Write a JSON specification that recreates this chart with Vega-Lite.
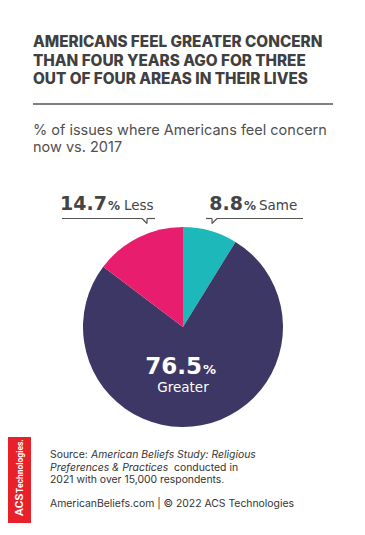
{
  "$schema": "https://vega.github.io/schema/vega-lite/v6.json",
  "width": 365,
  "height": 535,
  "autosize": "none",
  "padding": 0,
  "background": "white",
  "config": {"view": {"stroke": null}, "text": {"font": "Inter"}},
  "data": {"values": [
    {"response": "Same", "share": 8.8, "order": 1},
    {"response": "Greater", "share": 76.5, "order": 2},
    {"response": "Less", "share": 14.7, "order": 3}
  ]},
  "layer": [
    {
      "mark": {"type": "arc", "x": 183, "y": 327, "outerRadius": 100},
      "encoding": {
        "theta": {"field": "share", "type": "quantitative", "stack": true},
        "order": {"field": "order", "type": "quantitative"},
        "color": {"field": "response", "type": "nominal", "legend": null,
          "scale": {"domain": ["Same", "Greater", "Less"], "range": ["#1db9ba", "#3d3765", "#e91d6d"]}}
      }
    },
    {
      "data": {"values": [{}]},
      "mark": {"type": "text", "x": 33, "y": 47, "align": "left", "baseline": "alphabetic", "lineHeight": 18.5,
        "fontSize": 15.3, "fontWeight": 800, "fill": "#404040",
        "text": ["AMERICANS FEEL GREATER CONCERN", "THAN FOUR YEARS AGO FOR THREE", "OUT OF FOUR AREAS IN THEIR LIVES"]},
      "encoding": {}
    },
    {"data": {"values": [{}]}, "mark": {"type": "rule", "stroke": "#555555", "strokeWidth": 1.5},
      "encoding": {"x": {"value": 33}, "x2": {"value": 333}, "y": {"value": 104}, "y2": {"value": 104}}},
    {
      "data": {"values": [{}]},
      "mark": {"type": "text", "x": 33, "y": 135, "align": "left", "baseline": "alphabetic", "lineHeight": 17,
        "fontSize": 14.5, "fontWeight": 400, "fill": "#505050",
        "text": ["% of issues where Americans feel concern", "now vs. 2017"]},
      "encoding": {}
    },
    {
      "transform": [{"filter": "datum.response == 'Less'"}],
      "mark": {"type": "text", "x": 107, "y": 210, "align": "right", "baseline": "alphabetic", "font": "DejaVu Sans", "fontSize": 19, "fontWeight": "bold", "fill": "#444444"},
      "encoding": {"text": {"field": "share", "type": "quantitative", "format": ".1f"}}
    },
    {
      "transform": [{"filter": "datum.response == 'Less'"}],
      "mark": {"type": "text", "x": 108, "y": 210, "align": "left", "baseline": "alphabetic", "font": "DejaVu Sans", "fontSize": 12, "fontWeight": "bold", "fill": "#444444", "text": "%"},
      "encoding": {}
    },
    {
      "transform": [{"filter": "datum.response == 'Less'"}],
      "mark": {"type": "text", "x": 124, "y": 210, "align": "left", "baseline": "alphabetic", "font": "DejaVu Sans", "fontSize": 13.5, "fill": "#444444"},
      "encoding": {"text": {"field": "response", "type": "nominal"}}
    },
    {
      "transform": [{"filter": "datum.response == 'Same'"}],
      "mark": {"type": "text", "x": 243, "y": 210, "align": "right", "baseline": "alphabetic", "font": "DejaVu Sans", "fontSize": 19, "fontWeight": "bold", "fill": "#444444"},
      "encoding": {"text": {"field": "share", "type": "quantitative", "format": ".1f"}}
    },
    {
      "transform": [{"filter": "datum.response == 'Same'"}],
      "mark": {"type": "text", "x": 244, "y": 210, "align": "left", "baseline": "alphabetic", "font": "DejaVu Sans", "fontSize": 12, "fontWeight": "bold", "fill": "#444444", "text": "%"},
      "encoding": {}
    },
    {
      "transform": [{"filter": "datum.response == 'Same'"}],
      "mark": {"type": "text", "x": 259, "y": 210, "align": "left", "baseline": "alphabetic", "font": "DejaVu Sans", "fontSize": 13.5, "fill": "#444444"},
      "encoding": {"text": {"field": "response", "type": "nominal"}}
    },
    {
      "transform": [{"filter": "datum.response == 'Greater'"}],
      "mark": {"type": "text", "x": 202, "y": 374, "align": "right", "baseline": "alphabetic", "font": "DejaVu Sans", "fontSize": 23, "fontWeight": "bold", "fill": "white"},
      "encoding": {"text": {"field": "share", "type": "quantitative", "format": ".1f"}}
    },
    {
      "transform": [{"filter": "datum.response == 'Greater'"}],
      "mark": {"type": "text", "x": 203, "y": 374, "align": "left", "baseline": "alphabetic", "font": "DejaVu Sans", "fontSize": 13, "fontWeight": "bold", "fill": "white", "text": "%"},
      "encoding": {}
    },
    {
      "transform": [{"filter": "datum.response == 'Greater'"}],
      "mark": {"type": "text", "x": 183, "y": 392, "align": "center", "baseline": "alphabetic", "font": "DejaVu Sans", "fontSize": 13.5, "fill": "white"},
      "encoding": {"text": {"field": "response", "type": "nominal"}}
    },
    {"data": {"values": [{}]}, "mark": {"type": "rule", "stroke": "#555555", "strokeWidth": 1.2},
      "encoding": {"x": {"value": 62}, "x2": {"value": 142}, "y": {"value": 218.5}, "y2": {"value": 218.5}}},
    {"data": {"values": [{}]}, "mark": {"type": "rule", "stroke": "#555555", "strokeWidth": 1.2},
      "encoding": {"x": {"value": 142}, "x2": {"value": 147}, "y": {"value": 218.5}, "y2": {"value": 223.5}}},
    {"data": {"values": [{}]}, "mark": {"type": "rule", "stroke": "#555555", "strokeWidth": 1.2},
      "encoding": {"x": {"value": 147}, "x2": {"value": 147}, "y": {"value": 223.5}, "y2": {"value": 218.5}}},
    {"data": {"values": [{}]}, "mark": {"type": "rule", "stroke": "#555555", "strokeWidth": 1.2},
      "encoding": {"x": {"value": 147}, "x2": {"value": 155}, "y": {"value": 218.5}, "y2": {"value": 218.5}}},
    {"data": {"values": [{}]}, "mark": {"type": "rule", "stroke": "#555555", "strokeWidth": 1.2},
      "encoding": {"x": {"value": 206}, "x2": {"value": 212}, "y": {"value": 218.5}, "y2": {"value": 218.5}}},
    {"data": {"values": [{}]}, "mark": {"type": "rule", "stroke": "#555555", "strokeWidth": 1.2},
      "encoding": {"x": {"value": 212}, "x2": {"value": 212}, "y": {"value": 218.5}, "y2": {"value": 223.5}}},
    {"data": {"values": [{}]}, "mark": {"type": "rule", "stroke": "#555555", "strokeWidth": 1.2},
      "encoding": {"x": {"value": 212}, "x2": {"value": 217}, "y": {"value": 223.5}, "y2": {"value": 218.5}}},
    {"data": {"values": [{}]}, "mark": {"type": "rule", "stroke": "#555555", "strokeWidth": 1.2},
      "encoding": {"x": {"value": 217}, "x2": {"value": 303}, "y": {"value": 218.5}, "y2": {"value": 218.5}}},
    {"data": {"values": [{}]}, "mark": {"type": "rect", "fill": "#e8202a"},
      "encoding": {"x": {"value": 8}, "x2": {"value": 31}, "y": {"value": 437}, "y2": {"value": 523}}},
    {
      "data": {"values": [{}]},
      "mark": {"type": "text", "x": 20, "y": 516, "angle": 270, "align": "left", "baseline": "middle", "font": "Roboto",
        "fontSize": 11.5, "fontWeight": "bold", "fill": "white", "text": "ACS"},
      "encoding": {}
    },
    {
      "data": {"values": [{}]},
      "mark": {"type": "text", "x": 20, "y": 493, "angle": 270, "align": "left", "baseline": "middle", "font": "Roboto",
        "fontSize": 8.5, "fontWeight": "bold", "fill": "white", "text": "Technologies."},
      "encoding": {}
    },
    {"data": {"values": [{}]}, "mark": {"type": "text", "x": 50, "y": 458, "align": "left", "baseline": "alphabetic", "fontSize": 10.4, "fill": "#333333", "text": "Source:"}, "encoding": {}},
    {"data": {"values": [{}]}, "mark": {"type": "text", "x": 91, "y": 458, "align": "left", "baseline": "alphabetic", "fontSize": 10.4, "fontStyle": "italic", "fill": "#333333", "text": "American Beliefs Study: Religious"}, "encoding": {}},
    {"data": {"values": [{}]}, "mark": {"type": "text", "x": 50, "y": 470.5, "align": "left", "baseline": "alphabetic", "fontSize": 10.4, "fontStyle": "italic", "fill": "#333333", "text": "Preferences & Practices"}, "encoding": {}},
    {"data": {"values": [{}]}, "mark": {"type": "text", "x": 174, "y": 470.5, "align": "left", "baseline": "alphabetic", "fontSize": 10.4, "fill": "#333333", "text": "conducted in"}, "encoding": {}},
    {"data": {"values": [{}]}, "mark": {"type": "text", "x": 50, "y": 483, "align": "left", "baseline": "alphabetic", "fontSize": 10.4, "fill": "#333333", "text": "2021 with over 15,000 respondents."}, "encoding": {}},
    {"data": {"values": [{}]}, "mark": {"type": "text", "x": 50, "y": 507, "align": "left", "baseline": "alphabetic", "fontSize": 10.4, "fill": "#333333", "text": "AmericanBeliefs.com | © 2022 ACS Technologies"}, "encoding": {}}
  ]
}
